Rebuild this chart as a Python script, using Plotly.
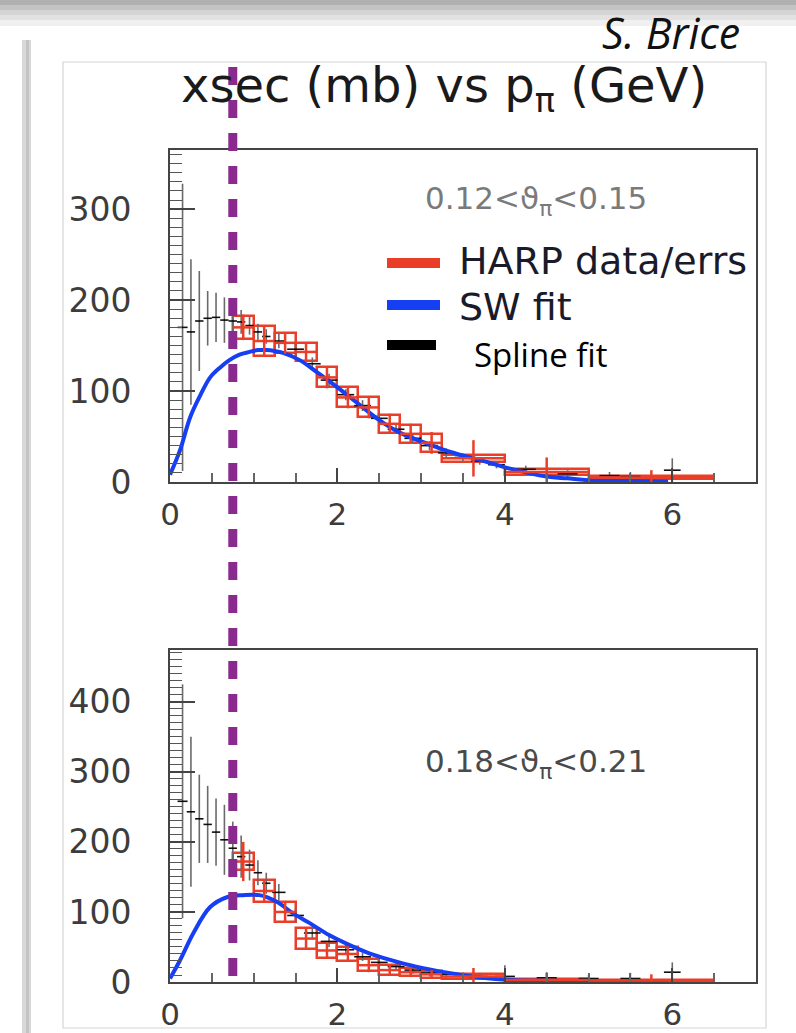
import plotly.graph_objects as go

W, H = 796, 1033

# ---------------- data ----------------
# SW fit (blue curves)
sw_top_x = [0.0, 0.12, 0.24, 0.36, 0.48, 0.6, 0.71, 0.83, 0.95, 1.05, 1.15, 1.25, 1.35, 1.55, 1.75, 2.0, 2.25, 2.5,
            2.75, 3.05, 3.35, 3.75, 4.05, 4.5, 4.75, 5.0, 5.5, 5.95]
sw_top_y = [8, 35, 71, 95, 115, 126, 134, 140, 143, 145, 145, 144, 142, 134, 121, 104, 86, 68,
            54, 43, 33, 23, 15, 6, 4, 2, 1, 0.5]
sw_bot_x = [0.0, 0.12, 0.28, 0.48, 0.68, 0.87, 1.07, 1.27, 1.47, 1.67, 1.9, 2.14, 2.38, 2.62, 2.94, 3.33, 3.73,
            4.13, 4.6, 5.0, 5.5, 5.95]
sw_bot_y = [5, 31, 70, 107, 121, 124, 124, 115, 98, 84, 67, 53, 41, 32, 22, 13, 6, 2.5, 1.5, 1, 0.8, 0.5]

# Spline fit (black points with errors)
bk_top_x = [0.15, 0.25, 0.35, 0.45, 0.55, 0.65, 0.75, 0.85, 0.95, 1.05, 1.15, 1.3, 1.5, 1.7, 1.9, 2.1, 2.3, 2.5,
            2.7, 2.9, 3.1, 3.3, 3.5, 3.7, 3.9, 4.25, 4.5, 4.75, 5.25, 5.5, 6.0]
bk_top_y = [170, 165, 177, 180, 181, 178, 177, 176, 172, 165, 160, 155, 146, 130, 112, 96, 84, 70,
            58, 48, 40, 32, 27, 23, 19, 14, 11, 9, 7, 6, 13]
bk_top_e = [158, 80, 55, 30, 27, 25, 15, 13, 10, 9, 8, 8, 7, 7, 7, 6, 6, 6,
            5, 5, 5, 5, 4, 4, 4, 4, 4, 4, 4, 5, 13]
bk_top_w = [0.06, 0.05, 0.05, 0.05, 0.05, 0.05, 0.05, 0.05, 0.05, 0.05, 0.05, 0.08, 0.1, 0.1, 0.1, 0.1, 0.1, 0.1,
            0.1, 0.1, 0.1, 0.1, 0.1, 0.1, 0.1, 0.12, 0.12, 0.12, 0.12, 0.12, 0.1]

bk_bot_x = [0.15, 0.25, 0.35, 0.45, 0.55, 0.65, 0.75, 0.85, 0.95, 1.05, 1.15, 1.3, 1.5, 1.7, 1.9, 2.1, 2.3, 2.5,
            2.7, 2.9, 3.1, 3.3, 3.5, 3.7, 4.0, 4.5, 5.0, 5.5, 6.0]
bk_bot_y = [258, 243, 233, 225, 214, 203, 191, 179, 167, 156, 141, 128, 95, 70, 58, 46, 36, 28,
            22, 17, 13, 11, 9, 8, 8, 6, 5, 5, 14]
bk_bot_e = [167, 107, 63, 55, 48, 50, 38, 30, 22, 18, 15, 12, 10, 9, 8, 7, 6, 6,
            5, 5, 5, 5, 5, 5, 16, 8, 5, 8, 14]
bk_bot_w = [0.06, 0.05, 0.05, 0.05, 0.05, 0.05, 0.05, 0.05, 0.05, 0.05, 0.05, 0.08, 0.1, 0.1, 0.1, 0.1, 0.1, 0.1,
            0.1, 0.1, 0.1, 0.1, 0.1, 0.1, 0.12, 0.12, 0.12, 0.12, 0.1]

# HARP data (red): momentum bins, value, box (sys) half-height, error bar half-length
h_lo = [0.75, 1.0, 1.25, 1.5, 1.75, 2.0, 2.25, 2.5, 2.75, 3.0, 3.25, 4.0, 5.0]
h_hi = [1.0, 1.25, 1.5, 1.75, 2.0, 2.25, 2.5, 2.75, 3.0, 3.25, 4.0, 5.0, 6.5]
h_top_y = [170, 155, 153, 143, 115, 93, 82, 64, 53, 43, 26, 11, 5]
h_top_sys = [13, 16, 11, 10, 11, 11, 11, 10, 10, 10, 4, 3, 2]
h_top_err = [14, 17, 12, 11, 12, 12, 12, 11, 11, 12, 20, 16, 8]
h_bot_y = [172, 130, 100, 62, 45, 40, 24, 17, 14, 11, 8, 3, 2]
h_bot_sys = [12, 16, 14, 15, 11, 10, 9, 7, 6, 5, 3, 2, 1.5]
h_bot_err = [28, 17, 15, 16, 12, 11, 10, 8, 7, 6, 12, 10, 9]

x_ticks = [0, 2, 4, 6]
top_yticks = [0, 100, 200, 300]
bot_yticks = [0, 100, 200, 300, 400]
cut_p = 0.75

title_text = "xsec (mb) vs p<sub>π</sub> (GeV)"
author = "S. Brice"
top_label = "0.12&lt;ϑ<sub>π</sub>&lt;0.15"
bot_label = "0.18&lt;ϑ<sub>π</sub>&lt;0.21"
legend_items = ["HARP data/errs", "SW fit", "Spline fit"]

RED = "rgb(234,62,40)"
BLUE = "rgb(22,62,242)"
PURPLE = "rgb(138,42,142)"


def pxx(p):
    return p / W


def pxy(p):
    return 1 - p / H


fig = go.Figure()


def add_panel(xa, ya, bx, by, be, bw, sx, sy, hy, hs, he):
    # spline fit
    fig.add_trace(go.Scatter(
        x=bx, y=by, mode="markers", marker=dict(size=1, color="black"),
        error_y=dict(type="data", array=be, color="#6a6a6a", thickness=1.6, width=0),
        error_x=dict(type="data", array=bw, color="#111", thickness=1.6, width=0),
        xaxis=xa, yaxis=ya, showlegend=False, hoverinfo="skip"))
    # SW fit
    fig.add_trace(go.Scatter(
        x=sx, y=sy, mode="lines", line=dict(color=BLUE, width=4, shape="spline"),
        xaxis=xa, yaxis=ya, showlegend=False, hoverinfo="skip"))
    # HARP boxes
    cx = [(a + b) / 2 for a, b in zip(h_lo, h_hi)]
    wd = [b - a for a, b in zip(h_lo, h_hi)]
    fig.add_trace(go.Bar(
        x=cx, y=[2 * s for s in hs], base=[v - s for v, s in zip(hy, hs)], width=wd,
        marker=dict(color="rgba(0,0,0,0)", line=dict(color=RED, width=2.5)),
        xaxis=xa, yaxis=ya, showlegend=False, hoverinfo="skip"))
    fig.add_trace(go.Scatter(
        x=cx, y=hy, mode="markers", marker=dict(size=1, color=RED),
        error_y=dict(type="data", array=he, color=RED, thickness=2.5, width=0),
        error_x=dict(type="data", array=[w / 2 for w in wd], color=RED, thickness=2.5, width=0),
        xaxis=xa, yaxis=ya, showlegend=False, hoverinfo="skip"))


add_panel("x", "y", bk_top_x, bk_top_y, bk_top_e, bk_top_w, sw_top_x, sw_top_y, h_top_y, h_top_sys, h_top_err)
add_panel("x2", "y2", bk_bot_x, bk_bot_y, bk_bot_e, bk_bot_w, sw_bot_x, sw_bot_y, h_bot_y, h_bot_sys, h_bot_err)

ytickfont = dict(family="DejaVu Sans", size=33, color="#3c3c3c")
xtickfont = dict(family="DejaVu Sans", size=31, color="#3c3c3c")
xdom = [pxx(170), pxx(756)]

xcommon = dict(range=[0, 7], domain=xdom, showline=True, mirror=True, linecolor="#444", linewidth=2,
               ticks="inside", tickvals=x_ticks, ticklen=14, tickwidth=2, tickcolor="#444",
               minor=dict(dtick=0.5, ticks="inside", ticklen=9, tickwidth=2, tickcolor="#666"),
               showgrid=False, zeroline=False, tickfont=xtickfont, ticklabelstandoff=4, fixedrange=True,
               automargin=False)
ycommon = dict(showline=True, mirror=True, linecolor="#444", linewidth=2,
               ticks="inside", ticklen=25, tickwidth=1.5, tickcolor="#444",
               minor=dict(dtick=10, ticks="inside", ticklen=12, tickwidth=1.2, tickcolor="#555"),
               showgrid=False, zeroline=False, tickfont=ytickfont, ticklabelstandoff=30, fixedrange=True,
               automargin=False)

fig.update_layout(
    width=W, height=H, margin=dict(l=0, r=0, t=0, b=0, pad=0), autosize=False,
    paper_bgcolor="white", plot_bgcolor="white", barmode="overlay", bargap=0,
    xaxis=dict(**xcommon, anchor="y"),
    yaxis=dict(**ycommon, range=[0, 365], tickvals=top_yticks, domain=[pxy(482), pxy(150)], anchor="x"),
    xaxis2=dict(**xcommon, anchor="y2"),
    yaxis2=dict(**ycommon, range=[0, 474], tickvals=bot_yticks, domain=[pxy(982), pxy(650)], anchor="x2"),
)

shapes = []
# slide decorations: top gradient band
for i, (y0, y1, op) in enumerate([(0, 5, 0.55), (5, 10, 0.42), (10, 15, 0.3), (15, 20, 0.2), (20, 26, 0.1)]):
    shapes.append(dict(type="rect", xref="paper", yref="paper", x0=0, x1=1, y0=pxy(y1), y1=pxy(y0),
                       fillcolor="#707070", opacity=op, line=dict(width=0), layer="below"))
# left vertical bar
shapes.append(dict(type="rect", xref="paper", yref="paper", x0=pxx(22), x1=pxx(31), y0=0, y1=pxy(40),
                   fillcolor="#d8d8d8", line=dict(width=0), layer="below"))
shapes.append(dict(type="rect", xref="paper", yref="paper", x0=pxx(26), x1=pxx(29), y0=0, y1=pxy(40),
                   fillcolor="#c4c4c4", line=dict(width=0), layer="below"))
# picture frame
shapes.append(dict(type="rect", xref="paper", yref="paper", x0=pxx(63), x1=pxx(766), y0=pxy(1028), y1=pxy(62),
                   fillcolor="rgba(0,0,0,0)", line=dict(width=1.2, color="#d6d6d6"), layer="below"))
# purple dashed cut line
shapes.append(dict(type="line", xref="x", yref="paper", x0=cut_p, x1=cut_p, y0=pxy(67), y1=pxy(976),
                   line=dict(color=PURPLE, width=9, dash="18px,15px"), layer="above"))
# legend lines
leg_colors = [RED, BLUE, "black"]
leg_y = [263, 305, 345]
leg_x1 = [440, 440, 436]
for c, yy, x1 in zip(leg_colors, leg_y, leg_x1):
    shapes.append(dict(type="line", xref="paper", yref="paper", x0=pxx(387), x1=pxx(x1), y0=pxy(yy), y1=pxy(yy),
                       line=dict(color=c, width=10), layer="above"))
fig.update_layout(shapes=shapes)

ann = []
ann.append(dict(text=author, x=pxx(742), y=pxy(33), xref="paper", yref="paper", xanchor="right", yanchor="middle",
                showarrow=False, font=dict(family="Open Sans", size=43, color="#111", style="italic")))
ann.append(dict(text=title_text, x=pxx(444), y=pxy(89), xref="paper", yref="paper", xanchor="center",
                yanchor="middle", showarrow=False, font=dict(family="DejaVu Sans", size=48, color="#1a1a1a")))
ann.append(dict(text=top_label, x=pxx(423), y=pxy(201), xref="paper", yref="paper", xanchor="left",
                yanchor="middle", showarrow=False, font=dict(family="DejaVu Sans", size=31, color="#7a7a7a")))
ann.append(dict(text=bot_label, x=pxx(423), y=pxy(763), xref="paper", yref="paper", xanchor="left",
                yanchor="middle", showarrow=False, font=dict(family="DejaVu Sans", size=31, color="#4a4a4a")))
ann.append(dict(text=legend_items[0], x=pxx(457), y=pxy(261), xref="paper", yref="paper", xanchor="left",
                yanchor="middle", showarrow=False, font=dict(family="DejaVu Sans", size=38, color="#1a1a2a")))
ann.append(dict(text=legend_items[1], x=pxx(457), y=pxy(307), xref="paper", yref="paper", xanchor="left",
                yanchor="middle", showarrow=False, font=dict(family="DejaVu Sans", size=38, color="#1a1a2a")))
ann.append(dict(text=legend_items[2], x=pxx(472), y=pxy(354), xref="paper", yref="paper", xanchor="left",
                yanchor="middle", showarrow=False, font=dict(family="Open Sans", size=33, color="#000")))
fig.update_layout(annotations=ann)

fig.write_html("out.html", config={"displayModeBar": False},
               post_script="document.body.style.margin='0';document.body.style.overflow='hidden';")
